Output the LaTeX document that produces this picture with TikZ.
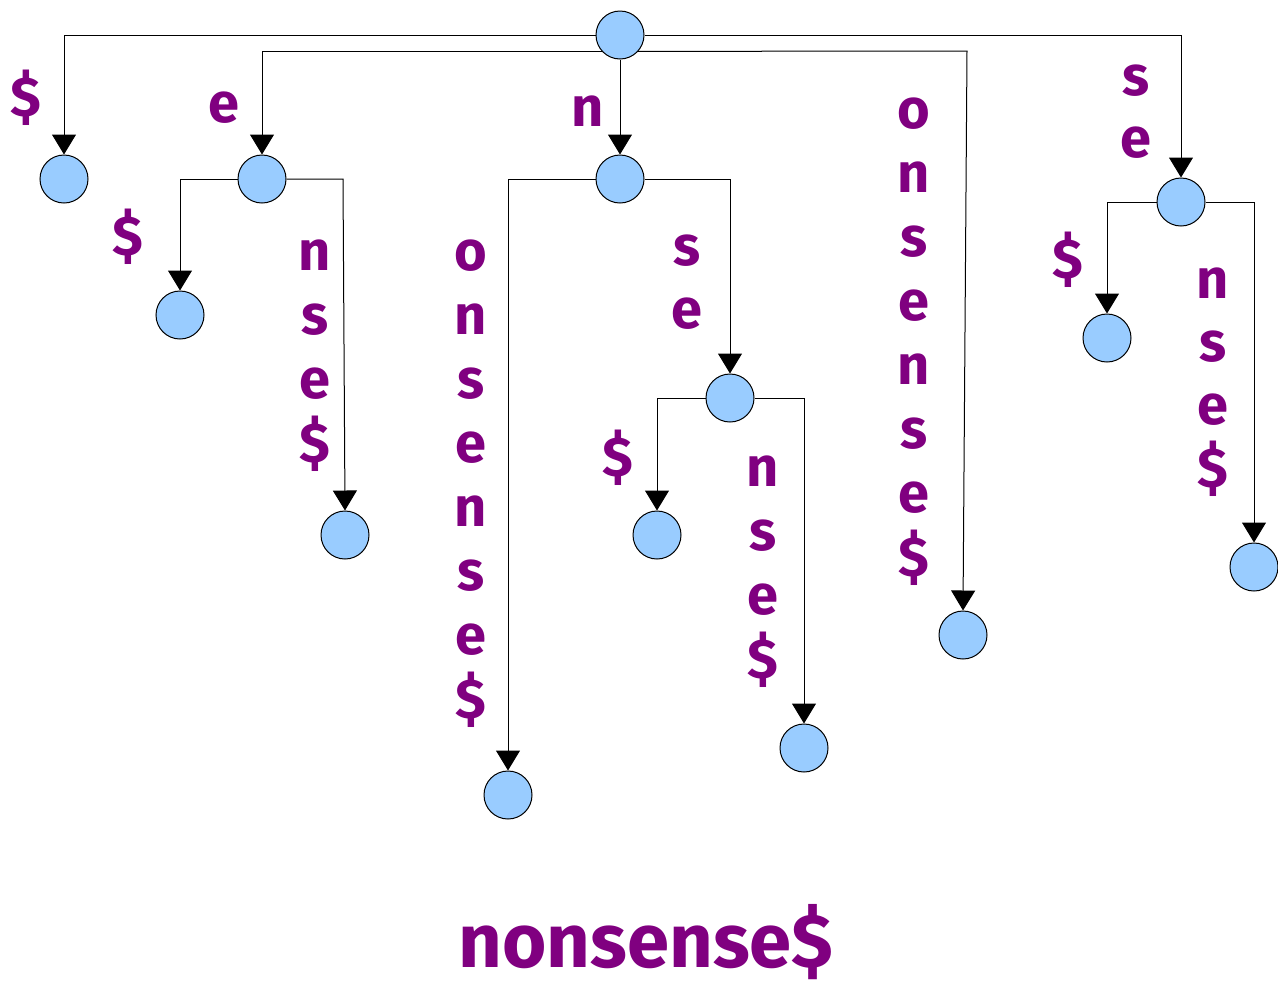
\documentclass[tikz,border=0pt]{standalone}
\usepackage{fontspec}
\setmainfont{Fira Sans}
\usetikzlibrary{arrows.meta}
\definecolor{lbl}{RGB}{128,0,128}
\definecolor{nodefill}{RGB}{153,204,255}
\tikzset{
  tnode/.style={circle, draw=black, line width=1pt, fill=nodefill,
    minimum size=48pt, inner sep=0pt},
  edge/.style={draw=black, line width=1pt,
    -{Triangle[width=24pt,length=20pt]}},
  letter/.style={text=lbl, font=\fontsize{56}{64}\selectfont\bfseries,
    inner sep=0pt},
}
% vertical edge label: name, x, first baseline, spacing, letters
\newcommand{\vlab}[5]{%
  \foreach \ch [count=\i] in {#5}
    \node[letter, anchor=base] (#1-\i) at (#2, #3+#4*\i-#4) {\ch};%
}
\begin{document}
\begin{tikzpicture}[x=1pt, y=-1pt]
\useasboundingbox (0,0) rectangle (1278,986);

% tree nodes
\node[tnode] (root) at (620,35) {};
\node[tnode] (d)    at (64,179) {};
\node[tnode] (e)    at (262,179) {};
\node[tnode] (ed)   at (180,315) {};
\node[tnode] (en)   at (345,535) {};
\node[tnode] (n)    at (620,179) {};
\node[tnode] (no)   at (508,795) {};
\node[tnode] (ns)   at (730,398) {};
\node[tnode] (nsd)  at (657,535) {};
\node[tnode] (nsn)  at (804,748) {};
\node[tnode] (o)    at (963,635) {};
\node[tnode] (s)    at (1181,202) {};
\node[tnode] (sd)   at (1107,338) {};
\node[tnode] (sn)   at (1254,567) {};

% connectors
\coordinate (obend) at (967,51);
\coordinate (enbend) at (343,179);
\path[edge] (root.west) -| (d);
\path[edge] (root.222) -| (e);
\path[edge] (root) -- (n);
\path[edge] (root.-42) -- (obend) -- (o.north);
\path[edge] (root.east) -| (s);
\path[edge] (e.west) -| (ed);
\path[edge] (e.east) -- (enbend) -- (en.north);
\path[edge] (n.west) -| (no);
\path[edge] (n.east) -| (ns);
\path[edge] (ns.west) -| (nsd);
\path[edge] (ns.east) -| (nsn);
\path[edge] (s.west) -| (sd);
\path[edge] (s.east) -| (sn);

% edge labels
\node[letter] (ld)  at (26,98)  {\$};
\node[letter] (le)  at (224,108) {e};
\node[letter] (ln)  at (588,111) {n};
\node[letter] (led) at (128,237) {\$};
\node[letter] (lnsd) at (618,458) {\$};
\node[letter] (lsd) at (1068,260) {\$};
\vlab{lo}{914}{128}{64}{o,n,s,e,n,s,e,\$}
\vlab{ls}{1136}{95}{62}{s,e}
\vlab{len}{315}{270}{64}{n,s,e,\$}
\vlab{lno}{471}{270}{64}{o,n,s,e,n,s,e,\$}
\vlab{lns}{687}{265}{63}{s,e}
\vlab{lnsn}{763}{486}{64}{n,s,e,\$}
\vlab{lsn}{1213}{298}{63}{n,s,e,\$}

% the string
\node[text=lbl, font=\fontsize{76}{92}\selectfont\bfseries, anchor=base, inner sep=0pt]
  (word) at (646,967) {nonsense\$};
\end{tikzpicture}
\end{document}
